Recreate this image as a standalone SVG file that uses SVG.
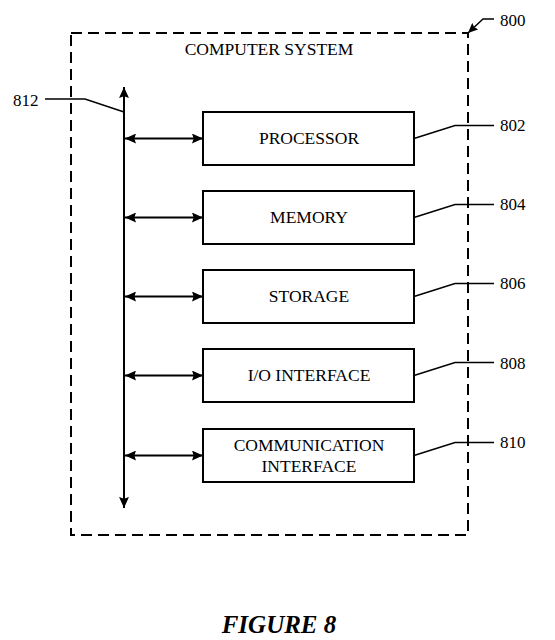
<svg xmlns="http://www.w3.org/2000/svg" width="555" height="640" viewBox="0 0 555 640">
<style>
  .box { fill: #fff; stroke: #000; stroke-width: 2; }
  .ln { fill: none; stroke: #000; stroke-width: 1.5; }
  .arr { fill: none; stroke: #000; stroke-width: 2; }
  .bus { fill: none; stroke: #000; stroke-width: 2; }
  .lbl { font-family: "Liberation Serif", "Times New Roman", serif; font-size: 17.5px; fill: #000; text-anchor: middle; }
  .num { font-family: "Liberation Serif", "Times New Roman", serif; font-size: 17px; fill: #000; }
  .fig { font-family: "Liberation Serif", "Times New Roman", serif; font-size: 25px; font-weight: bold; font-style: italic; fill: #000; text-anchor: middle; }
  .frame { fill: none; stroke: #000; stroke-width: 2; stroke-dasharray: 11 6; }
</style>
<defs>
  <marker id="ah" viewBox="0 0 10 9" refX="10" refY="4.5" markerWidth="11" markerHeight="10" markerUnits="userSpaceOnUse" orient="auto-start-reverse">
    <path d="M0,0 L10,4.5 L0,9 L1.5,4.5 Z" fill="#000"/>
  </marker>
  <marker id="ahs" viewBox="0 0 10 9" refX="10" refY="4.5" markerWidth="10" markerHeight="9" markerUnits="userSpaceOnUse" orient="auto">
    <path d="M0,0 L10,4.5 L0,9 L1.5,4.5 Z" fill="#000"/>
  </marker>
</defs>

<g id="system">
  <rect class="frame" x="71" y="33" width="397" height="502"/>
  <text class="lbl" x="269" y="55">COMPUTER SYSTEM</text>
</g>

<g id="connectors">
  <line class="bus" x1="124" y1="508" x2="124" y2="87" marker-start="url(#ah)" marker-end="url(#ah)"/>
  <line class="arr" x1="125" y1="138.5" x2="203" y2="138.5" marker-start="url(#ah)" marker-end="url(#ah)"/>
  <line class="arr" x1="125" y1="217.5" x2="203" y2="217.5" marker-start="url(#ah)" marker-end="url(#ah)"/>
  <line class="arr" x1="125" y1="296.5" x2="203" y2="296.5" marker-start="url(#ah)" marker-end="url(#ah)"/>
  <line class="arr" x1="125" y1="375.5" x2="203" y2="375.5" marker-start="url(#ah)" marker-end="url(#ah)"/>
  <line class="arr" x1="125" y1="455.5" x2="203" y2="455.5" marker-start="url(#ah)" marker-end="url(#ah)"/>
  <polyline class="ln" points="414,138.5 455,125.5 494,125.5"/>
  <polyline class="ln" points="414,217.5 455,204.5 494,204.5"/>
  <polyline class="ln" points="414,296.5 455,283.5 494,283.5"/>
  <polyline class="ln" points="414,375.5 455,362.5 494,362.5"/>
  <polyline class="ln" points="414,455.5 455,442.5 494,442.5"/>
  <polyline class="ln" points="45,99 85,99 124,112"/>
  <polyline class="ln" points="494,19 483,19 468,33" marker-end="url(#ahs)"/>
</g>

<g id="n802">
  <rect class="box" x="203" y="112" width="211" height="53"/>
  <text class="lbl" x="309" y="144">PROCESSOR</text>
  <text class="num" x="500" y="131">802</text>
</g>
<g id="n804">
  <rect class="box" x="203" y="191" width="211" height="53"/>
  <text class="lbl" x="309" y="223">MEMORY</text>
  <text class="num" x="500" y="210">804</text>
</g>
<g id="n806">
  <rect class="box" x="203" y="270" width="211" height="53"/>
  <text class="lbl" x="309" y="302">STORAGE</text>
  <text class="num" x="500" y="289">806</text>
</g>
<g id="n808">
  <rect class="box" x="203" y="349" width="211" height="53"/>
  <text class="lbl" x="309" y="381">I/O INTERFACE</text>
  <text class="num" x="500" y="369">808</text>
</g>
<g id="n810">
  <rect class="box" x="203" y="429" width="211" height="53"/>
  <text class="lbl" x="309" y="451">COMMUNICATION</text>
  <text class="lbl" x="309" y="472">INTERFACE</text>
  <text class="num" x="500" y="448">810</text>
</g>
<g id="n812">
  <text class="num" x="13" y="106">812</text>
</g>
<g id="n800">
  <text class="num" x="500" y="26">800</text>
</g>
<text class="fig" x="279" y="633">FIGURE 8</text>
</svg>
